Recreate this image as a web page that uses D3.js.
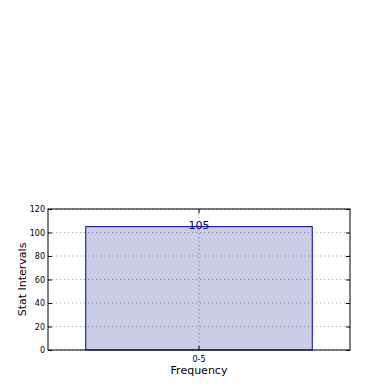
<!DOCTYPE html>
<html>
<head>
<meta charset="utf-8">
<script src="https://cdn.jsdelivr.net/npm/d3@7"></script>
<style>
  body { margin: 0; background: #fff; }
  svg text { font-family: "DejaVu Sans", sans-serif; }
</style>
</head>
<body>
<div id="chart"></div>
<script>
// data
var categories = ["0-5"];
var counts = [105];
var yTicks = [0, 20, 40, 60, 80, 100, 120];

var width = 390, height = 390;
var margin = { top: 209, right: 40, bottom: 40, left: 48 };
var innerW = width - margin.left - margin.right;
var innerH = height - margin.top - margin.bottom;

var svg = d3.select("#chart").append("svg")
  .attr("width", width)
  .attr("height", height);

var g = svg.append("g")
  .attr("transform", "translate(" + margin.left + "," + margin.top + ")");

var x = d3.scaleBand(categories, [0, innerW])
  .paddingInner(0.25)
  .paddingOuter(0.125);

var y = d3.scaleLinear([0, 120], [innerH, 0]);

// grid
g.selectAll(".hgrid")
  .data(yTicks)
  .join("line")
  .attr("x1", 0).attr("x2", innerW)
  .attr("y1", d => y(d)).attr("y2", d => y(d))
  .attr("stroke", "#a8a8a8")
  .attr("stroke-width", 1.2)
  .attr("stroke-dasharray", "1.2,2.8");

g.selectAll(".vgrid")
  .data(categories)
  .join("line")
  .attr("x1", d => x(d) + x.bandwidth() / 2)
  .attr("x2", d => x(d) + x.bandwidth() / 2)
  .attr("y1", 0).attr("y2", innerH)
  .attr("stroke", "#a8a8a8")
  .attr("stroke-width", 1.2)
  .attr("stroke-dasharray", "1.2,2.8");

// bars
g.selectAll("rect.bar")
  .data(counts)
  .join("rect")
  .attr("class", "bar")
  .attr("x", (d, i) => x(categories[i]))
  .attr("y", d => y(d))
  .attr("width", x.bandwidth())
  .attr("height", d => innerH - y(d))
  .attr("fill", "rgba(0,0,128,0.2)")
  .attr("stroke", "#0000a0")
  .attr("stroke-width", 1);

g.selectAll("text.val")
  .data(counts)
  .join("text")
  .attr("class", "val")
  .attr("x", (d, i) => x(categories[i]) + x.bandwidth() / 2)
  .attr("y", d => y(d) + 2)
  .attr("text-anchor", "middle")
  .attr("font-size", 11)
  .attr("fill", "#000080")
  .text(d => d);

// axes (ticks inward, matplotlib classic)
var yAxis = d3.axisLeft(y).tickValues(yTicks).tickSize(-4).tickPadding(3);
var yAxisR = d3.axisRight(y).tickValues(yTicks).tickSize(-4).tickFormat("");
var xAxis = d3.axisBottom(x).tickSize(-4).tickPadding(6);
var xAxisT = d3.axisTop(x).tickSize(-4).tickFormat("");

function style(sel) {
  sel.select(".domain").remove();
  sel.selectAll(".tick line").attr("stroke", "#000");
  sel.selectAll(".tick text").attr("font-size", 8).attr("fill", "#000");
}

g.append("g").call(yAxis).call(style);
g.append("g").attr("transform", "translate(" + innerW + ",0)").call(yAxisR).call(style);
g.append("g").attr("transform", "translate(0," + innerH + ")").call(xAxis).call(style);
g.append("g").call(xAxisT).call(style);

// frame
g.append("rect")
  .attr("x", 0).attr("y", 0)
  .attr("width", innerW).attr("height", innerH)
  .attr("fill", "none")
  .attr("stroke", "#000")
  .attr("stroke-width", 1);

// labels
svg.append("text")
  .attr("x", margin.left + innerW / 2)
  .attr("y", 374)
  .attr("text-anchor", "middle")
  .attr("font-size", 11)
  .text("Frequency");

svg.append("text")
  .attr("transform", "translate(26," + (margin.top + innerH / 2) + ") rotate(-90)")
  .attr("text-anchor", "middle")
  .attr("font-size", 11)
  .text("Stat Intervals");
</script>
</body>
</html>
